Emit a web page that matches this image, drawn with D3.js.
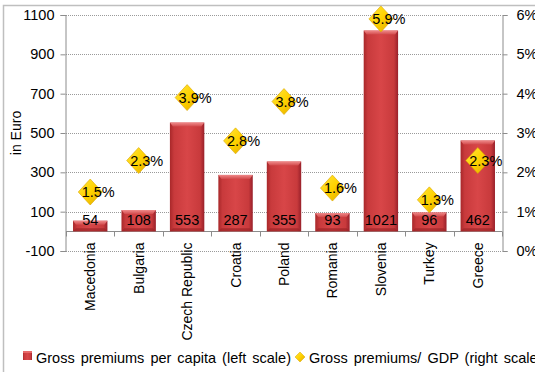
<!DOCTYPE html>
<html><head><meta charset="utf-8">
<script src="https://cdn.jsdelivr.net/npm/d3@7/dist/d3.min.js"></script>
<style>
html,body{margin:0;padding:0;background:#fff;overflow:hidden;}
text{font-family:"Liberation Sans",Arial,sans-serif;fill:#000;}
</style></head>
<body>
<svg id="c" width="535" height="372"></svg>
<script>
const categories = ["Macedonia","Bulgaria","Czech Republic","Croatia","Poland","Romania","Slovenia","Turkey","Greece"];
const premiumsPerCapita = [54,108,553,287,355,93,1021,96,462];
const premiumsToGDP = [1.5,2.3,3.9,2.8,3.8,1.6,5.9,1.3,2.3];
const leftTicks = [-100,100,300,500,700,900,1100];
const rightTicks = [0,1,2,3,4,5,6];
const legendLabels = ["Gross premiums per capita (left scale)","Gross premiums/ GDP (right scale)"];
const yAxisTitle = "in Euro";

const svg = d3.select("#c");
const W = 535, H = 372;
const pLeft = 66, pRight = 502, pTop = 15, pBottom = 251;

// outer border
svg.append("rect").attr("x",3.5).attr("y",5.5).attr("width",W+10).attr("height",H+10)
  .attr("fill","none").attr("stroke","#bfbfbf").attr("stroke-width",1.5);

const x = d3.scaleBand().domain(categories).range([pLeft,pRight]).paddingInner(0.29).paddingOuter(0.145);
const yL = d3.scaleLinear().domain([-100,1100]).range([pBottom,pTop]);
const yR = d3.scaleLinear().domain([0,6]).range([pBottom,pTop]);

const defs = svg.append("defs");
const bg = defs.append("linearGradient").attr("id","barG").attr("x1","0").attr("x2","1").attr("y1","0").attr("y2","0");
bg.append("stop").attr("offset","0").attr("stop-color","#a8282a");
bg.append("stop").attr("offset","0.12").attr("stop-color","#c83a3c");
bg.append("stop").attr("offset","0.5").attr("stop-color","#d84648");
bg.append("stop").attr("offset","0.88").attr("stop-color","#c83a3c");
bg.append("stop").attr("offset","1").attr("stop-color","#98202a");
const tg = defs.append("linearGradient").attr("id","topG").attr("x1","0").attr("x2","0").attr("y1","0").attr("y2","1");
tg.append("stop").attr("offset","0").attr("stop-color","#f08a8a");
tg.append("stop").attr("offset","1").attr("stop-color","#d24a4c");
const dg = defs.append("linearGradient").attr("id","diaG").attr("x1","0").attr("x2","1").attr("y1","0").attr("y2","1");
dg.append("stop").attr("offset","0").attr("stop-color","#ffe640");
dg.append("stop").attr("offset","0.5").attr("stop-color","#ffd200");
dg.append("stop").attr("offset","1").attr("stop-color","#e0a800");

// gridlines (dotted)
svg.append("g").selectAll("line").data(leftTicks).join("line")
  .attr("x1",pLeft).attr("x2",pRight)
  .attr("y1",d=>Math.round(yL(d))+0.5).attr("y2",d=>Math.round(yL(d))+0.5)
  .attr("stroke","#9a9a9a").attr("stroke-dasharray","1,1");

// left axis
const gl = svg.append("g").attr("transform",`translate(${pLeft-0.5},0)`)
  .call(d3.axisLeft(yL).tickValues(leftTicks).tickFormat(d=>String(d)).tickSize(5).tickPadding(6));
gl.select(".domain").attr("stroke","#8c8c8c");
gl.selectAll(".tick line").attr("stroke","#8c8c8c");
gl.selectAll("text").style("font-size","14.5px").attr("font-family","Liberation Sans, Arial, sans-serif");

// right axis
const gr = svg.append("g").attr("transform",`translate(${pRight+0.5},0)`)
  .call(d3.axisRight(yR).tickValues(rightTicks).tickFormat(d=>d+"%").tickSize(5).tickPadding(9));
gr.select(".domain").attr("stroke","#8c8c8c");
gr.selectAll(".tick line").attr("stroke","#8c8c8c");
gr.selectAll("text").style("font-size","14.5px").attr("font-family","Liberation Sans, Arial, sans-serif");

// category axis at zero
const y0 = Math.round(yL(0))+0.5;
svg.append("line").attr("x1",pLeft).attr("x2",pRight).attr("y1",y0).attr("y2",y0).attr("stroke","#8c8c8c");
const step = x.step();
svg.append("g").selectAll("line").data(d3.range(categories.length+1)).join("line")
  .attr("x1",i=>Math.round(pLeft+i*step)+0.5).attr("x2",i=>Math.round(pLeft+i*step)+0.5)
  .attr("y1",y0).attr("y2",y0+5).attr("stroke","#8c8c8c");

// category labels
svg.append("g").selectAll("text").data(categories).join("text")
  .attr("transform",d=>`translate(${x(d)+x.bandwidth()/2+5},${y0+11}) rotate(-90)`)
  .attr("text-anchor","end").style("font-size","14px").text(d=>d);

// bars
const bars = svg.append("g").selectAll("g").data(categories).join("g");
bars.append("rect")
  .attr("x",d=>x(d)).attr("width",x.bandwidth())
  .attr("y",(d,i)=>yL(premiumsPerCapita[i])).attr("height",(d,i)=>yL(0)-yL(premiumsPerCapita[i]))
  .attr("fill","url(#barG)");
bars.append("path")
  .attr("d",(d,i)=>{const x0=x(d),w=x.bandwidth(),yt=yL(premiumsPerCapita[i]);
    return `M${x0},${yt}L${x0+w},${yt}L${x0+w-3},${yt+4}L${x0+3},${yt+4}Z`;})
  .attr("fill","url(#topG)");
bars.append("path")
  .attr("d",(d,i)=>{const x0=x(d),w=x.bandwidth(),yb=yL(0);
    return `M${x0},${yb}L${x0+w},${yb}L${x0+w-3},${yb-3}L${x0+3},${yb-3}Z`;})
  .attr("fill","#9c2426").attr("opacity",0.7);

// bar labels
svg.append("g").selectAll("text").data(categories).join("text")
  .attr("x",d=>x(d)+x.bandwidth()/2).attr("y",yL(60)+5)
  .attr("text-anchor","middle").style("font-size","14.5px")
  .text((d,i)=>premiumsPerCapita[i]);

// diamonds
const dw=12, dh=13;
svg.append("g").selectAll("path").data(categories).join("path")
  .attr("d",(d,i)=>{const cx=x(d)+x.bandwidth()/2, cy=yR(premiumsToGDP[i]);
    return `M${cx},${cy-dh}L${cx+dw},${cy}L${cx},${cy+dh}L${cx-dw},${cy}Z`;})
  .attr("fill","url(#diaG)").attr("stroke","#d9a400").attr("stroke-width",0.6);
svg.append("g").selectAll("text").data(categories).join("text")
  .attr("x",d=>x(d)+x.bandwidth()/2+8).attr("y",(d,i)=>yR(premiumsToGDP[i])+5)
  .attr("text-anchor","middle").style("font-size","14.5px")
  .text((d,i)=>premiumsToGDP[i].toFixed(1)+"%");

// y title
svg.append("text").attr("transform",`translate(21,${(pTop+pBottom)/2}) rotate(-90)`)
  .attr("text-anchor","middle").style("font-size","14px").text(yAxisTitle);

// legend
const ly = 357;
svg.append("rect").attr("x",23).attr("y",ly-6).attr("width",9).attr("height",9).attr("fill","url(#barG)");
svg.append("rect").attr("x",23).attr("y",ly-6).attr("width",9).attr("height",2).attr("fill","#e86a6a");
svg.append("text").attr("x",36).attr("y",ly+6).style("font-size","14.5px").style("word-spacing","2px").text(legendLabels[0]);
svg.append("path").attr("d",`M300,${ly-5}L305,${ly}L300,${ly+5}L295,${ly}Z`).attr("fill","url(#diaG)").attr("stroke","#d9a400").attr("stroke-width",0.5);
svg.append("text").attr("x",309).attr("y",ly+6).style("font-size","14.5px").style("word-spacing","2px").text(legendLabels[1]);
</script>
</body></html>
